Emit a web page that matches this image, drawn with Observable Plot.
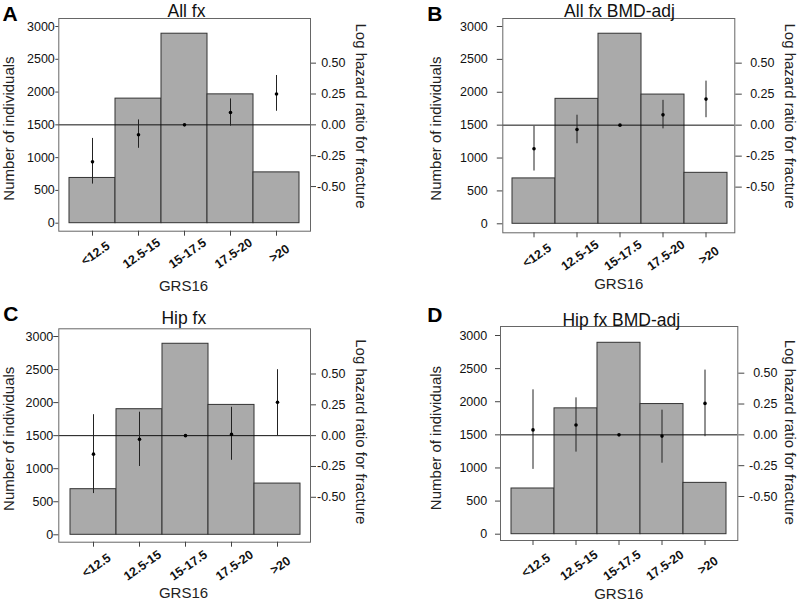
<!DOCTYPE html>
<html><head><meta charset="utf-8">
<script src="https://cdn.jsdelivr.net/npm/d3@7"></script>
<script src="https://cdn.jsdelivr.net/npm/@observablehq/plot@0.6"></script>
<style>
html,body{margin:0;padding:0;background:#fff;}
body{width:800px;height:601px;position:relative;overflow:hidden;font-family:"Liberation Sans",Arial,sans-serif;}
.panel{position:absolute;}
.panel svg{overflow:visible;}
</style></head><body>
<div id="pA" class="panel" style="left:0;top:0"></div>
<div id="pB" class="panel" style="left:400px;top:0"></div>
<div id="pC" class="panel" style="left:0;top:300px"></div>
<div id="pD" class="panel" style="left:400px;top:300px"></div>
<script>
// ---- data ----
const groups = ["<12.5", "12.5-15", "15-17.5", "17.5-20", ">20"];
const counts = [690, 1900, 2890, 1965, 775];
const leftTicks = [0, 500, 1000, 1500, 2000, 2500, 3000];
const rightTicks = [-0.5, -0.25, 0, 0.25, 0.5];
const titles = ["All fx", "All fx BMD-adj", "Hip fx", "Hip fx BMD-adj"];
const letters = ["A", "B", "C", "D"];
const xTitle = "GRS16";
const yTitle = "Number of individuals";
const y2Title = "Log hazard ratio for fracture";

// log hazard ratios and 95% CI (reference group 15-17.5 has no CI)
const hrA = [-0.30, -0.08, 0, 0.10, 0.25];
const loA = [-0.48, -0.19, null, -0.01, 0.11];
const hiA = [-0.11, 0.04, null, 0.21, 0.40];

const hrB = [-0.19, -0.035, 0, 0.083, 0.21];
const loB = [-0.37, -0.15, null, -0.03, 0.06];
const hiB = [-0.01, 0.08, null, 0.20, 0.355];

const hrC = [-0.15, -0.03, 0, 0.01, 0.27];
const loC = [-0.47, -0.25, null, -0.20, 0.00];
const hiC = [0.17, 0.19, null, 0.23, 0.535];

const hrD = [0.04, 0.08, 0, -0.01, 0.255];
const loD = [-0.28, -0.14, null, -0.23, -0.015];
const hiD = [0.365, 0.30, null, 0.20, 0.525];

// ---- layout (styles/positions only) ----
const layouts = [
  {L:58.3, R:310, T:18, B:230.7, y0:222.7, y3k:26, bx:[67.7,301], K:1882,
   lTick:3, lPad:1, rTick:5, rEnd:345, title:[186,10.5], letter:[2,20], yl:[9,128], yr:[360,115.5], xl:253, gx:[183,286]},
  {L:102.3, R:334.3, T:18, B:232.3, y0:223.3, y3k:26, bx:[110.7,327.7], K:1885,
   lTick:5.5, lPad:9.5, rTick:6.5, rEnd:374, title:[219,10.5], letter:[26.7,20], yl:[35.8,128], yr:[389,115.5], xl:255, gx:[218.3,284]},
  {L:58.3, R:310, T:28.3, B:241.7, y0:234.3, y3k:36, bx:[67.7,301.7], K:1865,
   lTick:5, lPad:0.5, rTick:5, rEnd:345, title:[183.3,17.5], letter:[2.7,20.7], yl:[9,138.3], yr:[360,131.3], xl:265, gx:[183,293]},
  {L:100, R:337.3, T:26, B:240, y0:233.7, y3k:35, bx:[109.3,328.7], K:1862,
   lTick:5, lPad:8.3, rTick:6, rEnd:377, title:[220.8,19.5], letter:[26.7,21.7], yl:[35.8,137.5], yr:[389,131.7], xl:265, gx:[218.3,294]}
];

function panel(cfg, hr, lo, hi, title, letter) {
  const W = 400, H = 300;
  const K = cfg.K;
  const toN = v => 1500 + v * K;
  const data = groups.map((g, i) => ({g, n: counts[i], hr: hr[i], lo: lo[i], hi: hi[i]}));
  const at = (x, y) => ({frameAnchor: "top-left", dx: x - cfg.L, dy: y - cfg.T});
  return Plot.plot({
    width: W, height: H,
    marginLeft: cfg.L, marginRight: W - cfg.R, marginTop: cfg.T, marginBottom: H - cfg.B,
    style: {fontFamily: '"Liberation Sans", Arial, sans-serif', fontSize: "12px", color: "#111", background: "transparent", overflow: "visible"},
    x: {domain: groups, range: cfg.bx, padding: 0, axis: null},
    y: {domain: [0, 3000], range: [cfg.y0, cfg.y3k], axis: null},
    marks: [
      Plot.barY(data, {x: "g", y: "n", fill: "#aaaaaa", stroke: "#333", strokeWidth: 1, inset: 0}),
      Plot.ruleY([1500], {stroke: "#111", strokeWidth: 1}),
      Plot.ruleX(data.filter(d => d.lo != null), {x: "g", y1: d => toN(d.lo), y2: d => toN(d.hi), stroke: "#222", strokeWidth: 1}),
      Plot.dot(data, {x: "g", y: d => toN(d.hr), r: 1.8, fill: "#000", stroke: null}),
      Plot.frame({stroke: "#666", strokeWidth: 1}),
      Plot.axisY(leftTicks, {anchor: "left", tickSize: cfg.lTick, tickPadding: cfg.lPad, label: null, fontSize: 12.5,
        stroke: "#444", tickFormat: d => String(d)}),
      Plot.axisY(rightTicks.map(toN), {anchor: "right", tickSize: cfg.rTick, tickPadding: cfg.rEnd - cfg.R - cfg.rTick,
        textAnchor: "end", tickFormat: d => ((d - 1500) / K).toFixed(2), label: null, fontSize: 12.5, stroke: "#444"}),
      Plot.axisX({anchor: "bottom", tickSize: 5, tickFormat: () => "", label: null, stroke: "#444"}),
      Plot.text(data, {x: "g", text: "g", frameAnchor: "bottom", dy: cfg.xl - cfg.B, dx: 3, rotate: -35,
        textAnchor: "middle", lineAnchor: "middle", fontWeight: "bold", fontSize: 12.5, fill: "#111"}),
      Plot.text([xTitle], {...at(cfg.gx[0], cfg.gx[1]), textAnchor: "middle", lineAnchor: "middle", fontSize: 15, fill: "#222"}),
      Plot.text([yTitle], {...at(cfg.yl[0], cfg.yl[1]), textAnchor: "middle", lineAnchor: "middle", rotate: -90, fontSize: 15, fill: "#222"}),
      Plot.text([y2Title], {...at(cfg.yr[0], cfg.yr[1]), textAnchor: "middle", lineAnchor: "middle", rotate: 90, fontSize: 15, fill: "#222"}),
      Plot.text([title], {...at(cfg.title[0], cfg.title[1]), textAnchor: "middle", lineAnchor: "middle", fontSize: 17.5, fill: "#111"}),
      Plot.text([letter], {...at(cfg.letter[0], cfg.letter[1]), textAnchor: "start", lineAnchor: "bottom", fontSize: 21, fontWeight: "bold", fill: "#000"})
    ]
  });
}

const hrs = [hrA, hrB, hrC, hrD], los = [loA, loB, loC, loD], his = [hiA, hiB, hiC, hiD];
["pA", "pB", "pC", "pD"].forEach((id, i) => {
  document.getElementById(id).append(panel(layouts[i], hrs[i], los[i], his[i], titles[i], letters[i]));
});
</script>
</body></html>
